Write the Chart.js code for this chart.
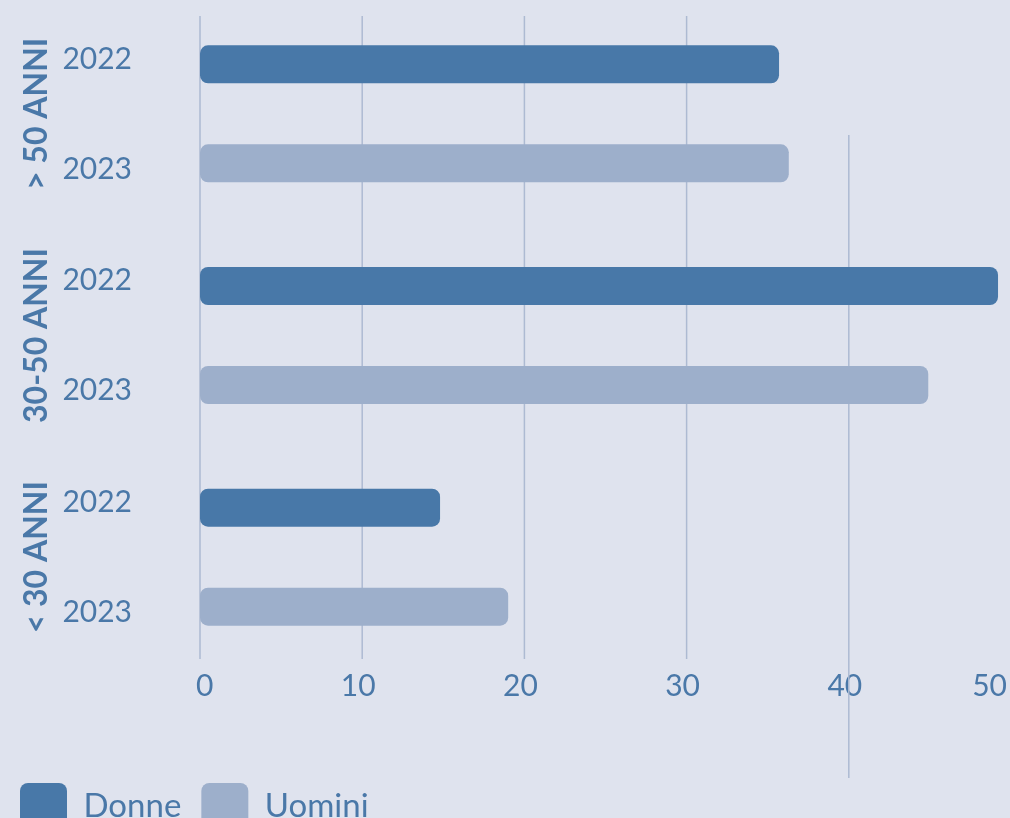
<!DOCTYPE html>
<html>
<head>
<meta charset="utf-8">
<script src="https://cdn.jsdelivr.net/npm/chart.js@4.4.0/dist/chart.umd.min.js"></script>
<style>
  html, body { margin: 0; padding: 0; background: #dfe3ee; overflow: hidden; }
  #wrap { width: 1011px; height: 840px; }
</style>
</head>
<body>
<div id="wrap"><canvas id="myChart"></canvas></div>
<script>
var groups = ['> 50 ANNI', '30-50 ANNI', '< 30 ANNI'];
var years = ['2022', '2023'];
var donne = [35.7, 49.2, 14.8];
var uomini = [36.3, 44.9, 19.0];
var xTicks = [0, 10, 20, 30, 40, 50];

var textColor = '#4a78a8';

// vertical grid lines, taken from the x scale (the one at 50 falls off the edge)
var gridLines = {
  id: 'gridLines',
  beforeDatasetsDraw: function (chart) {
    var x = chart.scales.x;
    var ctx = chart.ctx;
    ctx.save();
    ctx.strokeStyle = '#adbad2';
    ctx.lineWidth = 1.5;
    xTicks.slice(0, -1).forEach(function (v) {
      var px = x.getPixelForValue(v);
      var top = v === 40 ? 135 : 16;
      var bottom = v === 40 ? 778 : 659;
      ctx.beginPath();
      ctx.moveTo(px, top);
      ctx.lineTo(px, bottom);
      ctx.stroke();
    });
    ctx.restore();
  }
};

// rotated group names left of the years
var groupLabels = {
  id: 'groupLabels',
  afterDraw: function (chart) {
    var y = chart.scales.y;
    var ctx = chart.ctx;
    ctx.save();
    ctx.fillStyle = textColor;
    ctx.font = 'bold 32px Lato';
    ctx.textAlign = 'center';
    ctx.textBaseline = 'middle';
    groups.forEach(function (g, i) {
      ctx.save();
      ctx.translate(37, y.getPixelForValue(i));
      ctx.rotate(-Math.PI / 2);
      ctx.fillText(g, 0, 0);
      ctx.restore();
    });
    ctx.restore();
  }
};

var chartData = {
  labels: groups,
  datasets: [
    {
      label: 'Donne',
      data: donne,
      backgroundColor: '#4878a8',
      borderWidth: 0,
      borderRadius: 8,
      borderSkipped: false,
      categoryPercentage: 0.893,
      barPercentage: 0.384
    },
    {
      label: 'Uomini',
      data: uomini,
      backgroundColor: '#9dafcb',
      borderWidth: 0,
      borderRadius: 8,
      borderSkipped: false,
      categoryPercentage: 0.893,
      barPercentage: 0.384
    }
  ]
};

var chart = document.getElementById('myChart').getContext('2d');
var myChart = new Chart(chart, {
  type: 'bar',
  data: chartData,
  plugins: [gridLines, groupLabels],
  options: {
    indexAxis: 'y',
    responsive: true,
    maintainAspectRatio: false,
    animation: false,
    layout: {
      padding: { top: 3, left: 0, right: 0, bottom: 0 }
    },
    scales: {
      x: {
        min: 0,
        max: 50,
        grid: { display: false, drawTicks: false },
        border: { display: false },
        ticks: {
          stepSize: 10,
          align: 'inner',
          labelOffset: -4,
          padding: 0,
          color: textColor,
          font: { family: 'Lato', size: 30 }
        },
        afterFit: function (s) {
          s.height = 95;
          s.paddingLeft = 0;
          s.paddingRight = 0;
        }
      },
      y: {
        grid: { display: false, drawTicks: false },
        border: { display: false },
        ticks: {
          padding: 68,
          crossAlign: 'near',
          color: textColor,
          font: { family: 'Lato', size: 30, lineHeight: 55 / 30 },
          callback: function () {
            return [years[0], '', years[1]];
          }
        },
        afterFit: function (s) {
          s.width = 200;
          s.paddingTop = 0;
          s.paddingBottom = 0;
        }
      }
    },
    plugins: {
      tooltip: { enabled: false },
      legend: {
        position: 'bottom',
        align: 'start',
        labels: {
          color: textColor,
          font: { family: 'Lato', size: 33 },
          boxWidth: 47,
          boxHeight: 47,
          padding: 20,
          useBorderRadius: true,
          borderRadius: 8
        }
      }
    }
  }
});
</script>
</body>
</html>
